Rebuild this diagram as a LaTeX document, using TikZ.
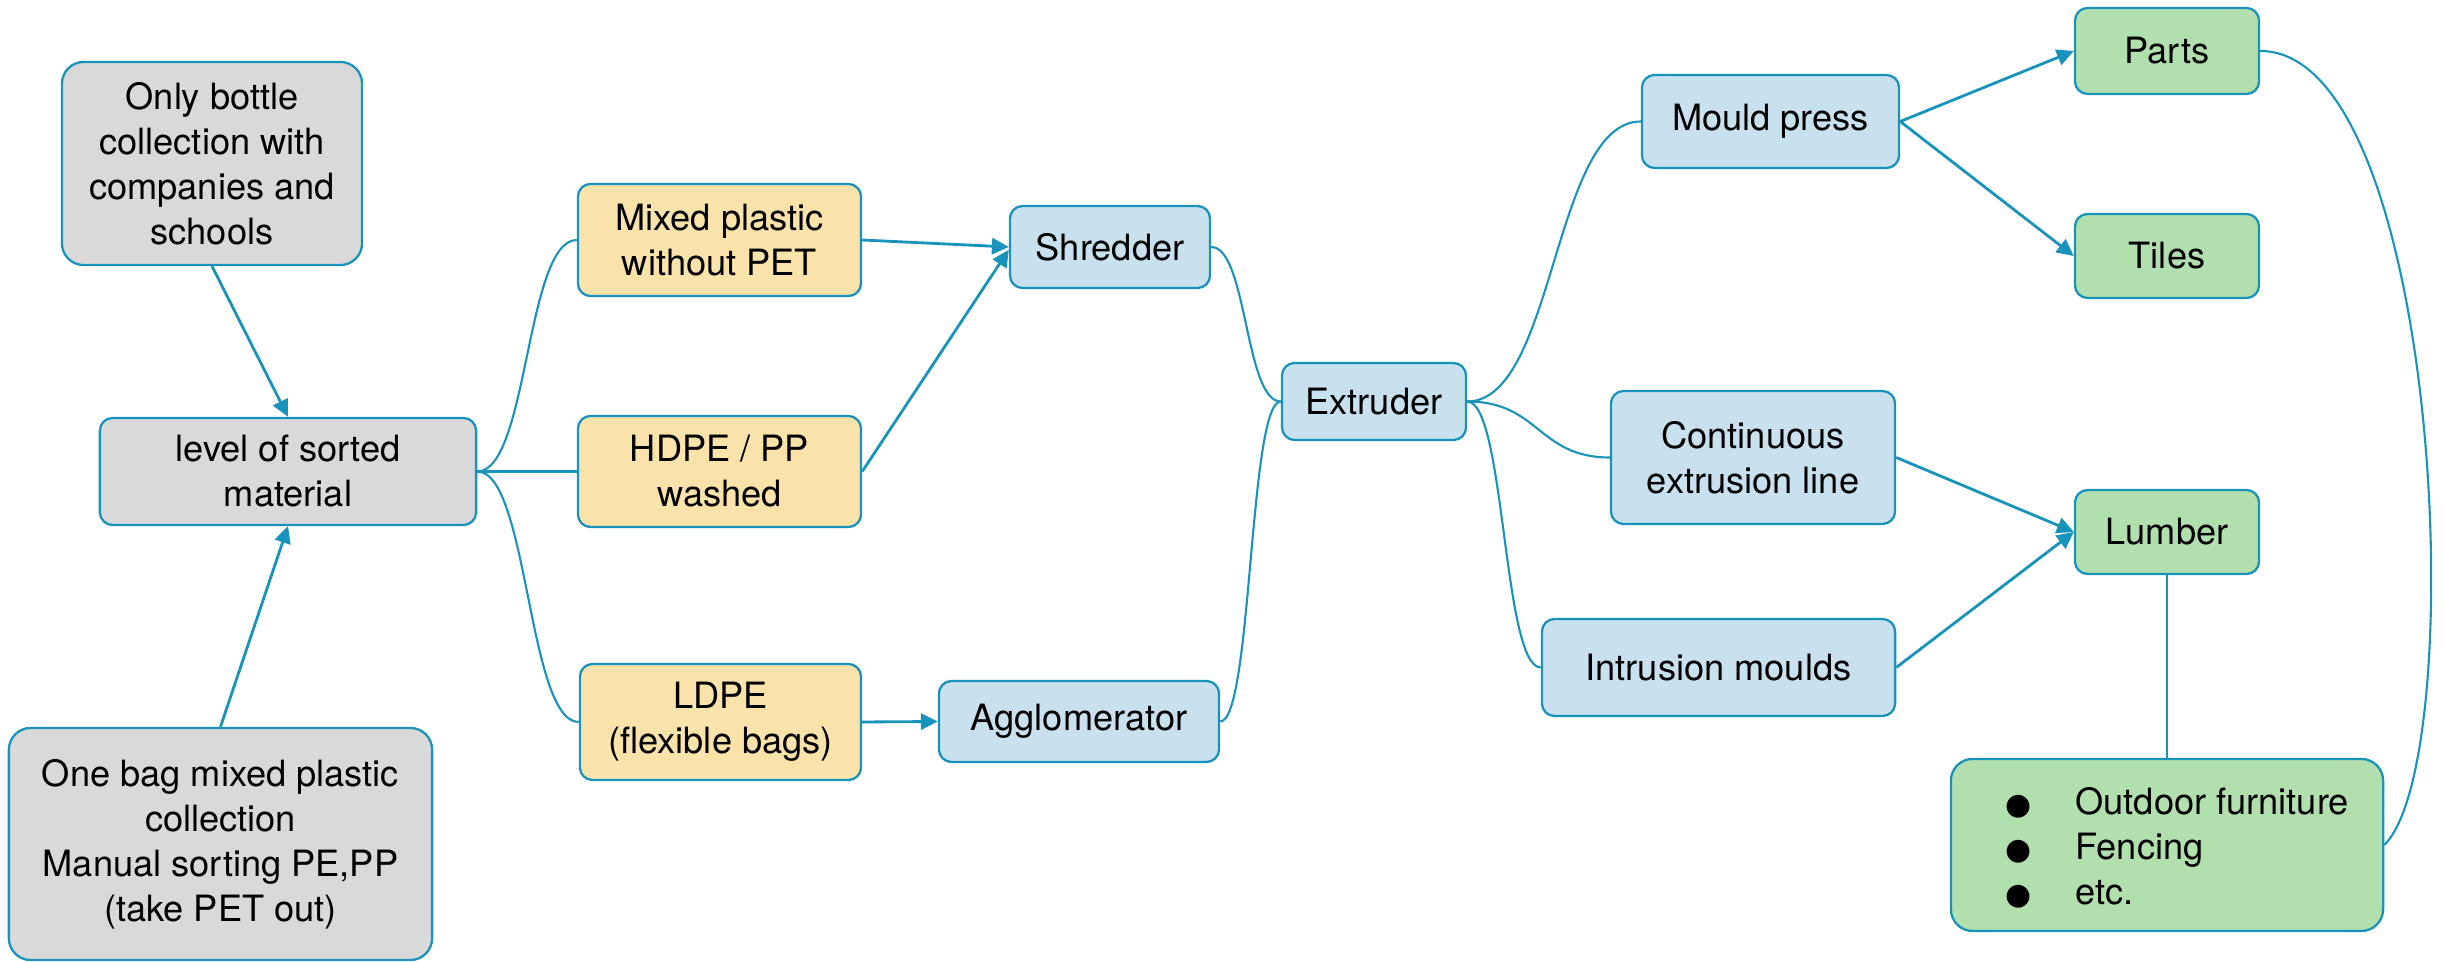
\documentclass[tikz,border=0pt]{standalone}
\usepackage{fontspec}
\setmainfont{TeX Gyre Heros}
\newfontfamily\symfont{DejaVu Sans}
\usetikzlibrary{arrows.meta}
\definecolor{edge}{HTML}{1894BC}
\definecolor{greyfill}{HTML}{D9D9D9}
\definecolor{yellowfill}{HTML}{F9E3AB}
\definecolor{bluefill}{HTML}{C9E1EE}
\definecolor{greenfill}{HTML}{B2DFAE}
\newcommand{\bigdot}{{\symfont\fontsize{8.5}{12.8}\selectfont ●}}
\tikzset{
  box/.style={draw=edge, line width=0.65pt, rounded corners=3.6pt, align=center, inner sep=0pt,
    font=\fontsize{10.3}{12.8}\selectfont},
  bigbox/.style={box, rounded corners=6.2pt},
  grey/.style={fill=greyfill},
  yellow/.style={fill=yellowfill},
  blue/.style={fill=bluefill},
  green/.style={fill=greenfill},
  arr/.style={draw=edge, line width=0.8pt, -{Triangle[length=4.8pt,width=4.6pt]}},
  curve/.style={draw=edge, line width=0.6pt},
  plain/.style={draw=edge, line width=0.65pt}
}
\begin{document}
\begin{tikzpicture}[x=0.01cm, y=-0.01cm]
\useasboundingbox (0,0) rectangle (2445,962);
% left column
\node[bigbox, grey, minimum width=3.00cm, minimum height=2.03cm] (ob) at (212,163.5)
  {Only bottle\\collection with\\companies and\\schools};
\node[box, grey, minimum width=3.76cm, minimum height=1.07cm] (level) at (288,471.5)
  {level of sorted\\material};
\node[bigbox, grey, minimum width=4.23cm, minimum height=2.32cm] (onebag) at (220.5,844)
  {One bag mixed plastic\\collection\\Manual sorting PE,PP\\(take PET out)};
% material column
\node[box, yellow, minimum width=2.83cm, minimum height=1.12cm] (mixed) at (719.5,240)
  {Mixed plastic\\without PET};
\node[box, yellow, minimum width=2.83cm, minimum height=1.11cm] (hdpe) at (719.5,471.5)
  {HDPE / PP\\washed};
\node[box, yellow, minimum width=2.81cm, minimum height=1.16cm] (ldpe) at (720.5,722)
  {LDPE\\(flexible bags)};
% machines
\node[box, blue, minimum width=2.00cm, minimum height=0.82cm] (shredder) at (1110,247) {Shredder};
\node[box, blue, minimum width=2.80cm, minimum height=0.81cm] (agglo) at (1079,721.5) {Agglomerator};
\node[box, blue, minimum width=1.84cm, minimum height=0.77cm] (extruder) at (1374,401.5) {Extruder};
\node[box, blue, minimum width=2.57cm, minimum height=0.93cm] (mould) at (1770.5,121.5) {Mould press};
\node[box, blue, minimum width=2.84cm, minimum height=1.33cm] (cont) at (1753,457.5)
  {Continuous\\extrusion line};
\node[box, blue, minimum width=3.53cm, minimum height=0.97cm] (intr) at (1718.5,667.5) {Intrusion moulds};
% products
\node[box, green, minimum width=1.84cm, minimum height=0.86cm] (parts) at (2167,51) {Parts};
\node[box, green, minimum width=1.84cm, minimum height=0.84cm] (tiles) at (2167,256) {Tiles};
\node[box, green, minimum width=1.84cm, minimum height=0.84cm] (lumber) at (2167,532) {Lumber};
\node[bigbox, green, minimum width=4.32cm, minimum height=1.72cm] (bullets) at (2167,845)
  {\hspace*{0.2cm}\raisebox{-1.5pt}[\height][\depth]{\begin{tabular}{@{}l@{\hspace{12.6pt}}l@{}}
   \bigdot & Outdoor furniture\\
   \bigdot & Fencing\\
   \bigdot & etc.
   \end{tabular}}};
% straight arrows
\draw[arr] (ob.south) -- (level.north);
\draw[arr] (onebag.north) -- (level.south);
\draw[arr] (mixed.east) -- (shredder.west);
\draw[arr] (hdpe.east) -- ([yshift=-0.8pt]shredder.west);
\draw[arr] (ldpe.east) -- (agglo.west);
\draw[arr] (mould.east) -- (parts.west);
\draw[arr] (mould.east) -- (tiles.west);
\draw[arr] (cont.east) -- (lumber.west);
\draw[arr] (intr.east) -- (lumber.west);
% curved connectors
\draw[curve] (level.east) .. controls +(51,0) and +(-51,0) .. (mixed.west);
\draw[curve] (level.east) .. controls +(51,0) and +(-51,0) .. (hdpe.west);
\draw[curve] (level.east) .. controls +(51,0) and +(-51,0) .. (ldpe.west);
\draw[curve] (shredder.east) .. controls +(36,0) and +(-36,0) .. (extruder.west);
\draw[curve] (agglo.east) .. controls +(32,0) and +(-32,0) .. (extruder.west);
\draw[curve] (extruder.east) .. controls +(88,0) and +(-88,0) .. (mould.west);
\draw[curve] (extruder.east) .. controls +(72,0) and +(-72,0) .. (cont.west);
\draw[curve] (extruder.east) .. controls +(38,0) and +(-38,0) .. (intr.west);
\draw[curve] (parts.east) .. controls +(181,0) and +(87,-86) .. (bullets.east);
\draw[plain] (lumber.south) -- (bullets.north);
\end{tikzpicture}
\end{document}
